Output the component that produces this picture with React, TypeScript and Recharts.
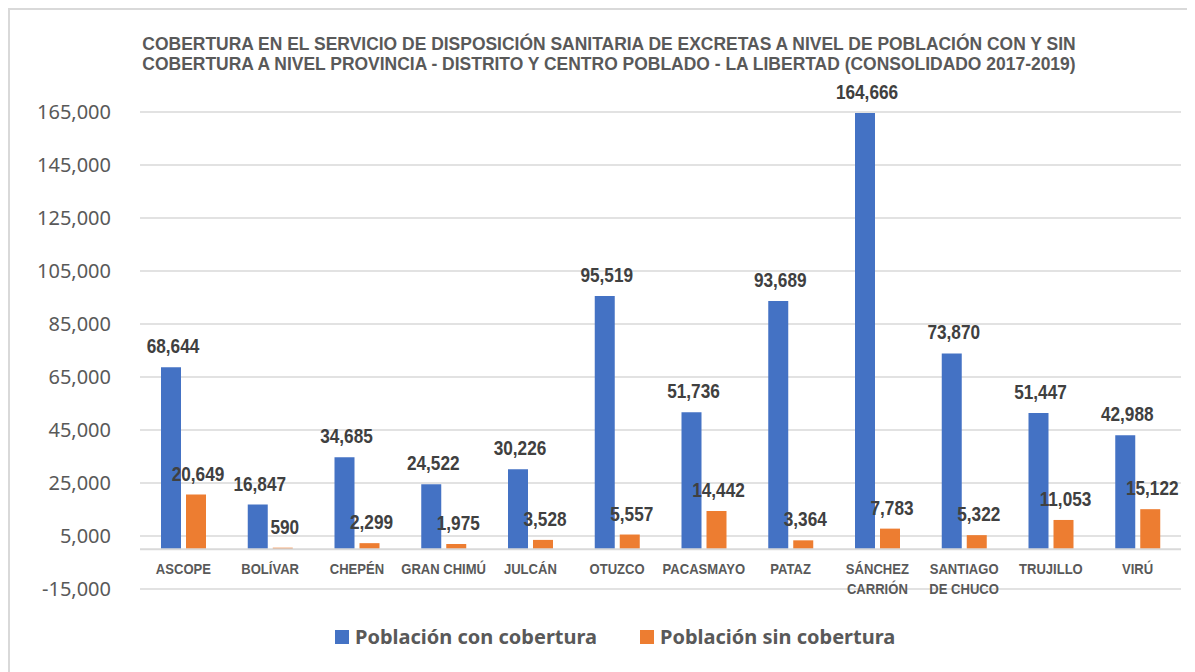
import React from 'react'
import { Bar, BarChart, CartesianGrid, LabelList, Legend, ReferenceLine, XAxis, YAxis } from 'recharts'

const provincias = [
  'ASCOPE',
  'BOLÍVAR',
  'CHEPÉN',
  'GRAN CHIMÚ',
  'JULCÁN',
  'OTUZCO',
  'PACASMAYO',
  'PATAZ',
  'SÁNCHEZ CARRIÓN',
  'SANTIAGO DE CHUCO',
  'TRUJILLO',
  'VIRÚ',
]

// how each category label is broken on the axis
const tickLines: Record<string, string[]> = {
  'SÁNCHEZ CARRIÓN': ['SÁNCHEZ', 'CARRIÓN'],
  'SANTIAGO DE CHUCO': ['SANTIAGO', 'DE CHUCO'],
}

const conCobertura = [68644, 16847, 34685, 24522, 30226, 95519, 51736, 93689, 164666, 73870, 51447, 42988]
const sinCobertura = [20649, 590, 2299, 1975, 3528, 5557, 14442, 3364, 7783, 5322, 11053, 15122]

const yTicks = [-15000, 5000, 25000, 45000, 65000, 85000, 105000, 125000, 145000, 165000]

const titleLines = [
  'COBERTURA EN EL SERVICIO DE DISPOSICIÓN SANITARIA DE EXCRETAS A NIVEL DE POBLACIÓN CON Y SIN',
  'COBERTURA A NIVEL PROVINCIA - DISTRITO Y CENTRO POBLADO - LA LIBERTAD (CONSOLIDADO 2017-2019)',
]

const data = provincias.map((name, i) => ({
  name,
  con: conCobertura[i],
  sin: sinCobertura[i],
}))

// no Arial Narrow here, so squeeze Liberation Sans instead
const narrowFont = "'Liberation Sans', Arial, sans-serif"
const blue = '#4472C4'
const orange = '#ED7D31'
const grid = '#D9D9D9'

const fmt = (v: unknown) => Number(v).toLocaleString('en-US')

function CategoryTick(props: any) {
  const { x, y, payload } = props
  const lines = tickLines[payload.value] ?? [payload.value]
  return (
    <g transform={`translate(${x},${y - 15}) scale(0.87,1)`}>
      {lines.map((line, i) => (
        <text
          key={line}
          x={0}
          y={i * 20}
          textAnchor="middle"
          fill="#595959"
          fontFamily={narrowFont}
          fontWeight="bold"
          fontSize={15}
        >
          {line}
        </text>
      ))}
    </g>
  )
}

function ValueTick(props: any) {
  const { y, payload } = props
  return (
    <text
      x={101}
      y={y + 7}
      textAnchor="end"
      fill="#595959"
      fontFamily="'Noto Sans', sans-serif"
      fontSize={20}
    >
      {fmt(payload.value)}
    </text>
  )
}

function ValueLabel(props: any) {
  const { x, y, width, value } = props
  const cx = x + width / 2 + 2
  return (
    <text
      transform={`translate(${cx},${y - 14}) scale(0.82,1)`}
      textAnchor="middle"
      fill="#404040"
      fontFamily={narrowFont}
      fontWeight="bold"
      fontSize={21}
    >
      {fmt(value)}
    </text>
  )
}

function LegendContent() {
  const items = [
    { label: 'Población con cobertura', color: blue, left: 325 },
    { label: 'Población sin cobertura', color: orange, left: 630 },
  ]
  return (
    <div style={{ position: 'relative', height: 28 }}>
      {items.map((item) => (
        <div
          key={item.label}
          style={{
            position: 'absolute',
            left: item.left,
            top: 0,
            display: 'flex',
            alignItems: 'center',
            whiteSpace: 'nowrap',
          }}
        >
          <span style={{ width: 14, height: 14, background: item.color, marginRight: 6 }} />
          <span
            style={{
              fontFamily: "'Noto Sans', sans-serif",
              fontWeight: 'bold',
              fontSize: 20,
              color: '#595959',
              lineHeight: '28px',
            }}
          >
            {item.label}
          </span>
        </div>
      ))}
    </div>
  )
}

export default function App() {
  return (
    <div
      style={{
        position: 'relative',
        width: 1185,
        height: 662,
        borderTop: `2px solid ${grid}`,
        borderLeft: `2px solid ${grid}`,
        background: '#fff',
        overflow: 'hidden',
      }}
    >
      <div
        style={{
          position: 'absolute',
          left: 0,
          width: 1198,
          top: 24,
          textAlign: 'center',
          fontFamily: narrowFont,
          fontWeight: 'bold',
          fontSize: 18,
          lineHeight: '20px',
          color: '#595959',
          transform: 'scaleX(0.97)',
          transformOrigin: '599px 0',
          whiteSpace: 'nowrap',
          zIndex: 1,
        }}
      >
        {titleLines.map((line) => (
          <div key={line}>{line}</div>
        ))}
      </div>
      <BarChart
        width={1185}
        height={662}
        data={data}
        margin={{ top: 102, right: 14, left: 30, bottom: 53 }}
        barSize={20}
        barGap={5}
      >
        <CartesianGrid vertical={false} stroke={grid} strokeWidth={1.5} />
        <XAxis
          dataKey="name"
          axisLine={false}
          tickLine={false}
          tickSize={0}
          tickMargin={0}
          height={30}
          interval={0}
          tick={<CategoryTick />}
        />
        <YAxis
          domain={[-15000, 165000]}
          ticks={yTicks}
          axisLine={false}
          tickLine={false}
          width={100}
          tick={<ValueTick />}
        />
        <ReferenceLine y={0} stroke={grid} strokeWidth={2} />
        <Legend
          verticalAlign="middle"
          align="center"
          layout="horizontal"
          content={<LegendContent />}
          wrapperStyle={{ top: 613, left: 0, width: 1185 }}
        />
        <Bar dataKey="con" name="Población con cobertura" fill={blue} isAnimationActive={false}>
          <LabelList dataKey="con" content={<ValueLabel />} />
        </Bar>
        <Bar dataKey="sin" name="Población sin cobertura" fill={orange} isAnimationActive={false}>
          <LabelList dataKey="sin" content={<ValueLabel />} />
        </Bar>
      </BarChart>
    </div>
  )
}
